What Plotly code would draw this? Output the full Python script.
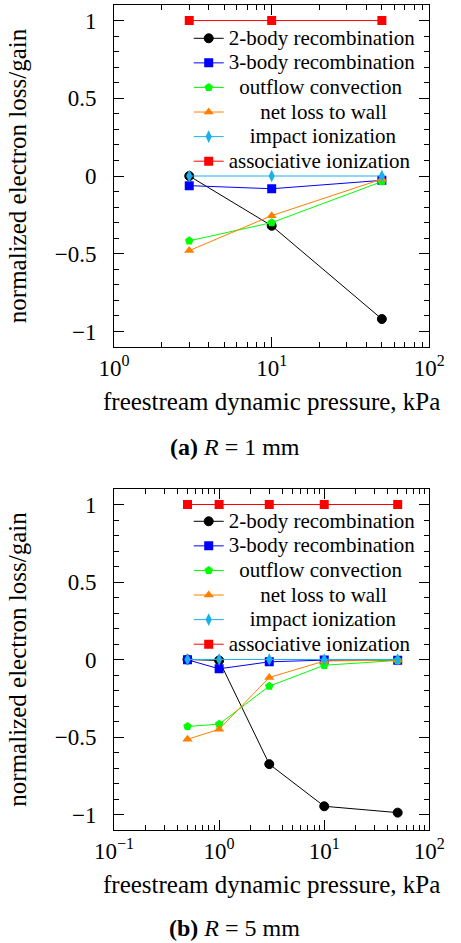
import plotly.graph_objects as go

# ---------------- data ----------------
series_names = ["2-body recombination", "3-body recombination", "outflow convection",
                "net loss to wall", "impact ionization", "associative ionization"]
legend_pad = [0, 0, 2, 6, 4, 0]  # leading non-breaking spaces to centre legend text
series_colors = ["#000000", "#0000ff", "#00ff00", "#ff7f00", "#1ab0ec", "#ff0000"]
series_symbols = ["circle", "square", "pentagon", "triangle-up", "diamond-tall", "square"]

# (a) R = 1 mm
pressure_a = [3, 10, 50]
two_body_a = [0.0, -0.32, -0.92]
three_body_a = [-0.062, -0.082, -0.028]
outflow_a = [-0.417, -0.30, -0.036]
wall_a = [-0.48, -0.255, -0.02]
impact_a = [0.0, 0.0, 0.0]
assoc_a = [1.0, 1.0, 1.0]

# (b) R = 5 mm
pressure_b = [0.5, 1, 3, 10, 50]
two_body_b = [0.0, -0.006, -0.675, -0.947, -0.988]
three_body_b = [-0.002, -0.06, -0.015, -0.004, -0.005]
outflow_b = [-0.432, -0.417, -0.172, -0.037, -0.006]
wall_b = [-0.515, -0.45, -0.116, -0.01, -0.004]
impact_b = [0.0, 0.0, 0.0, 0.0, 0.0]
assoc_b = [1.0, 1.0, 1.0, 1.0, 1.0]

yticks = [-1, -0.5, 0, 0.5, 1]
ytick_labels = ["\u22121", "\u22120.5", "0", "0.5", "1"]
xtitle = "freestream dynamic pressure, kPa"
ytitle = "normalized electron loss/gain"
caption_a = "<b>(a)</b> <i>R</i> = 1 mm"
caption_b = "<b>(b)</b> <i>R</i> = 5 mm"

FONT = "Liberation Serif"
fig = go.Figure()

sets = [
    (pressure_a, [two_body_a, three_body_a, outflow_a, wall_a, impact_a, assoc_a], "x", "y", "legend"),
    (pressure_b, [two_body_b, three_body_b, outflow_b, wall_b, impact_b, assoc_b], "x2", "y2", "legend2"),
]
for xs, ys_list, xa, ya, lg in sets:
    for name, pad, col, sym, ys in zip(series_names, legend_pad, series_colors, series_symbols, ys_list):
        label = "<span style='font-size:21px'>" + "\u00a0" * pad + name + "</span>"
        size = 9
        fig.add_trace(go.Scatter(
            x=xs, y=ys, name=label, mode="lines+markers",
            line=dict(color=col, width=1),
            marker=dict(symbol=sym, size=size, color=col,
                        line=dict(color=col, width=1 if col == "#000000" else 0)),
            xaxis=xa, yaxis=ya, legend=lg,
        ))

dom_x = [102 / 461, 444 / 461]
H = 943
dom_a = [1 - 347 / H, 1 - 5 / H]
dom_b = [1 - 830 / H, 1 - 489 / H]

def xaxis(rng, tickvals, ticktext, domain, anchor):
    return dict(type="log", range=rng, domain=domain, anchor=anchor,
                tickvals=tickvals, ticktext=ticktext,
                ticks="inside", ticklen=10, tickwidth=1, tickcolor="black",
                showline=True, linecolor="black", linewidth=1, mirror="allticks",
                showgrid=False, zeroline=False,
                minor=dict(ticks="inside", ticklen=5, tickwidth=1, tickcolor="black", dtick="D1", showgrid=False),
                tickfont=dict(family=FONT, size=23, color="black"),
                title=dict(text=xtitle, font=dict(family=FONT, size=25, color="black"), standoff=12),
                ticklabelstandoff=0)

def yaxis(domain, anchor):
    return dict(range=[-1.1, 1.1], domain=domain, anchor=anchor,
                tickvals=yticks, ticktext=ytick_labels,
                ticks="inside", ticklen=10, tickwidth=1, tickcolor="black",
                showline=True, linecolor="black", linewidth=1, mirror="allticks",
                showgrid=False, zeroline=False,
                minor=dict(ticks="inside", ticklen=5, tickwidth=1, tickcolor="black", dtick=0.1, showgrid=False),
                tickfont=dict(family=FONT, size=23, color="black"),
                title=dict(text=ytitle, font=dict(family=FONT, size=25, color="black"), standoff=20),
                ticklabelstandoff=12)

legend_common = dict(bgcolor="rgba(0,0,0,0)", borderwidth=0,
                     font=dict(family=FONT, size=16.6, color="black"),
                     xanchor="left", yanchor="top", tracegroupgap=0, itemwidth=30)

fig.update_layout(
    width=461, height=943,
    margin=dict(l=0, r=0, t=0, b=0),
    paper_bgcolor="white", plot_bgcolor="white",
    font=dict(family=FONT, size=21, color="black"),
    xaxis=xaxis([0, 2], [1, 10, 100], ["10<sup>0</sup>", "10<sup>1</sup>", "10<sup>2</sup>"], dom_x, "y"),
    yaxis=yaxis(dom_a, "x"),
    xaxis2=xaxis([-1, 2], [0.1, 1, 10, 100], ["10<sup>\u22121</sup>", "10<sup>0</sup>", "10<sup>1</sup>", "10<sup>2</sup>"], dom_x, "y2"),
    yaxis2=yaxis(dom_b, "x2"),
    legend=dict(x=183 / 461, y=1 - 21 / H, **legend_common),
    legend2=dict(x=183 / 461, y=1 - 504 / H, **legend_common),
    showlegend=True,
    annotations=[
        dict(text=caption_a, x=233 / 461, y=1 - 447 / H, xref="paper", yref="paper",
             xanchor="center", yanchor="middle",
             showarrow=False, font=dict(family=FONT, size=24, color="black")),
        dict(text=caption_b, x=233 / 461, y=1 - 928 / H, xref="paper", yref="paper",
             xanchor="center", yanchor="middle",
             showarrow=False, font=dict(family=FONT, size=24, color="black")),
    ],
)

fig.write_html("out.html")
